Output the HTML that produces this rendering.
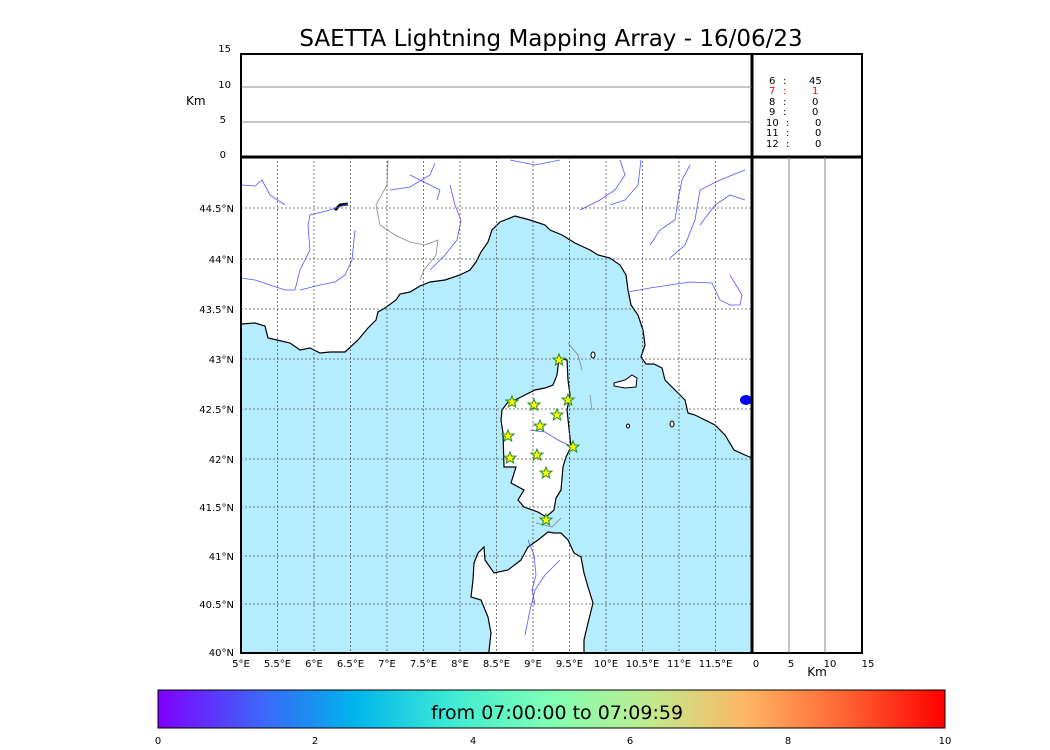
<!DOCTYPE html>
<html><head><style>body{margin:0;background:#fff;}svg{display:block;font-family:"DejaVu Sans","Liberation Sans",sans-serif;}</style></head><body>
<svg width="1050" height="750" xmlns="http://www.w3.org/2000/svg">
<defs><linearGradient id="rb" x1="0" x2="1" y1="0" y2="0">
<stop offset="0" stop-color="#8000ff"/><stop offset="0.125" stop-color="#4062fa"/><stop offset="0.25" stop-color="#00b4eb"/><stop offset="0.375" stop-color="#40ebd4"/><stop offset="0.5" stop-color="#80ffb4"/><stop offset="0.625" stop-color="#c0eb8e"/><stop offset="0.75" stop-color="#ffb462"/><stop offset="0.875" stop-color="#ff6232"/><stop offset="1" stop-color="#ff0000"/></linearGradient>
<clipPath id="mc"><rect x="241" y="157" width="511" height="496"/></clipPath></defs>
<text x="551" y="46" font-size="23" text-anchor="middle">SAETTA Lightning Mapping Array - 16/06/23</text>
<g clip-path="url(#mc)">
<rect x="241" y="157" width="511" height="496" fill="#b5ecfe"/>
<path fill="#fff" stroke="#000" stroke-width="1.2" d="M241,324 L255,323 265,326 268,338 277,340 290,343 300,350 310,348 320,353 330,352 345,352 358,340 368,328 376,320 378,312 385,308 396,300 400,294 410,292 420,286 430,282 445,280 460,275 470,270 476,262 481,252 488,242 492,230 500,222 515,216 530,220 545,225 550,230 562,235 575,243 590,250 598,255 610,258 620,265 626,275 628,290 631,305 638,315 643,330 645,345 641,357 646,364 654,364 662,368 665,380 675,390 685,400 688,413 695,415 705,420 715,425 725,435 734,450 745,455 752,458 L752,157 241,157Z"/>
<path fill="#fff" stroke="#000" stroke-width="1.2" d="M559,358 L567,360 568,380 570,395 567,410 571,447 566,457 563,467 561,490 556,498 554,510 546,517 538,512 524,507 518,500 524,490 511,483 516,467 504,467 503,433 501,420 502,410 508,402 515,400 525,395 535,390 545,388 553,385 557,375Z"/>
<path fill="#fff" stroke="#000" stroke-width="1.2" d="M548,532 L554,533 561,533 568,540 574,553 581,557 584,573 588,587 593,603 588,623 584,640 584,660 488,660 491,633 488,617 481,600 471,597 473,580 474,563 478,553 484,547 485,560 494,573 508,570 521,560 528,547 538,540Z"/>
<path fill="#fff" stroke="#000" d="M614,383 L625,380 632,375 637,378 636,387 625,388 614,386Z"/>
<ellipse cx="593" cy="355" rx="2" ry="3" fill="#fff" stroke="#000"/>
<ellipse cx="628" cy="426" rx="1.5" ry="2" fill="#fff" stroke="#000"/>
<ellipse cx="672" cy="424" rx="2" ry="3" fill="#fff" stroke="#000"/>
<path d="M335,210 L340,205 348,204" stroke="#000" stroke-width="3" fill="none"/>
<g stroke="#5555ff" stroke-width="0.8" fill="none">
<path d="M241,185 L255,186 262,180 270,195 285,205"/>
<path d="M348,204 L330,210 310,215 308,225 310,250 300,270 295,290 285,290 270,285 255,280 241,278"/>
<path d="M355,230 L352,260 345,275 335,282 320,285 300,290"/>
<path d="M410,175 L420,180 440,190 437,200"/>
<path d="M435,163 L430,175 410,187 390,190"/>
<path d="M450,185 L455,205 461,220 457,240 445,255 430,270"/>
<path d="M510,160 L535,165 560,160"/>
<path d="M620,160 L625,175 615,190 600,200 580,210"/>
<path d="M641,160 L638,185 625,200 610,205"/>
<path d="M690,165 L682,180 678,200 675,220 660,230 650,245"/>
<path d="M745,170 L720,180 700,190 695,220 685,245 670,258"/>
<path d="M745,200 L730,195 715,205 700,225"/>
<path d="M628,292 L650,288 670,285 690,282 712,283 720,300 730,305 740,305 742,295 730,275"/>
<path d="M528,540 L534,555 536,575 532,590 535,605"/>
<path d="M560,560 L545,575 535,590 530,610 525,635"/>
<path d="M530,430 L545,432 558,440 573,447"/>
</g>
<g stroke="#888" stroke-width="0.8" fill="none">
<path d="M388,160 L387,185 376,205 380,225 395,235 410,242 425,245 438,240 436,255 424,270 420,280"/>
<path d="M568,343 L578,355 582,370"/>
<path d="M590,395 L592,410"/>
<path d="M536,523 L552,527 561,518"/>
</g>
<g stroke="#555" stroke-width="0.8" stroke-dasharray="2,2" fill="none">
<path d="M277.5,157V653M314,157V653M350.5,157V653M387,157V653M423.5,157V653M460,157V653M496.5,157V653M533,157V653M569.5,157V653M606,157V653M642.5,157V653M679,157V653M715.5,157V653"/>
<path d="M241,208H752M241,259H752M241,309H752M241,359H752M241,409H752M241,459H752M241,507H752M241,556H752M241,604H752"/>
</g>
<ellipse cx="746" cy="400" rx="6" ry="5" fill="#0000ff"/>
<g fill="#ffff00" stroke="#228b22" stroke-width="1">
<path id="st" d="M0,-6 L1.6,-2 6,-1.9 2.6,0.8 3.7,5 0,2.6 -3.7,5 -2.6,0.8 -6,-1.9 -1.6,-2Z" transform="translate(559,360)"/>
<use href="#st" transform="translate(-47,42)"/><use href="#st" transform="translate(-25,45)"/><use href="#st" transform="translate(9,40)"/>
<use href="#st" transform="translate(-19,66)"/><use href="#st" transform="translate(-2,55)"/><use href="#st" transform="translate(-51,76)"/>
<use href="#st" transform="translate(14,87)"/><use href="#st" transform="translate(-22,95)"/><use href="#st" transform="translate(-49,98)"/>
<use href="#st" transform="translate(-13,113)"/><use href="#st" transform="translate(-13,160)"/>
</g>
</g>
<g fill="none" stroke="#000" stroke-width="2">
<rect x="241" y="54" width="621" height="599"/>
<path d="M241,157H862M752,54V653" stroke-width="3"/>
</g>
<path d="M241,87H752M241,122H752M789,157V653M825,157V653" stroke="#666" stroke-width="0.8"/>
<g font-size="10" text-anchor="end">
<text x="231" y="52">15</text><text x="231" y="88">10</text><text x="226" y="123">5</text><text x="226" y="158">0</text>
<text x="234" y="212">44.5°N</text><text x="234" y="263">44°N</text><text x="234" y="313">43.5°N</text><text x="234" y="363">43°N</text><text x="234" y="413">42.5°N</text><text x="234" y="463">42°N</text><text x="234" y="511">41.5°N</text><text x="234" y="560">41°N</text><text x="234" y="608">40.5°N</text><text x="234" y="656">40°N</text>
</g>
<text x="186" y="105" font-size="12">Km</text>
<g font-size="10" text-anchor="middle">
<text x="241" y="667">5°E</text><text x="277.5" y="667">5.5°E</text><text x="314" y="667">6°E</text><text x="350.5" y="667">6.5°E</text><text x="387" y="667">7°E</text><text x="423.5" y="667">7.5°E</text><text x="460" y="667">8°E</text><text x="496.5" y="667">8.5°E</text><text x="533" y="667">9°E</text><text x="569.5" y="667">9.5°E</text><text x="606" y="667">10°E</text><text x="642.5" y="667">10.5°E</text><text x="679" y="667">11°E</text><text x="715.5" y="667">11.5°E</text>
<text x="756" y="667">0</text><text x="791" y="667">5</text><text x="830" y="667">10</text><text x="868" y="667">15</text>
</g>
<text x="817" y="676" font-size="12" text-anchor="middle">Km</text>
<g font-size="10">
<text x="769" y="84">6</text><text x="783" y="84">:</text><text x="809" y="84">45</text>
<g fill="#ff0000"><text x="769" y="94">7</text><text x="783" y="94">:</text><text x="812" y="94">1</text></g>
<text x="769" y="105">8</text><text x="783" y="105">:</text><text x="812" y="105">0</text>
<text x="769" y="115">9</text><text x="783" y="115">:</text><text x="812" y="115">0</text>
<text x="766" y="126">10</text><text x="786" y="126">:</text><text x="815" y="126">0</text>
<text x="766" y="136">11</text><text x="786" y="136">:</text><text x="815" y="136">0</text>
<text x="766" y="147">12</text><text x="786" y="147">:</text><text x="815" y="147">0</text>
</g>
<rect x="158" y="690" width="787" height="38" fill="url(#rb)" stroke="#000" stroke-width="1"/>
<text x="557" y="719" font-size="19" text-anchor="middle">from 07:00:00 to 07:09:59</text>
<g font-size="10" text-anchor="middle">
<text x="158" y="744">0</text><text x="315" y="744">2</text><text x="473" y="744">4</text><text x="630" y="744">6</text><text x="788" y="744">8</text><text x="945" y="744">10</text>
</g>
</svg>
</body></html>
